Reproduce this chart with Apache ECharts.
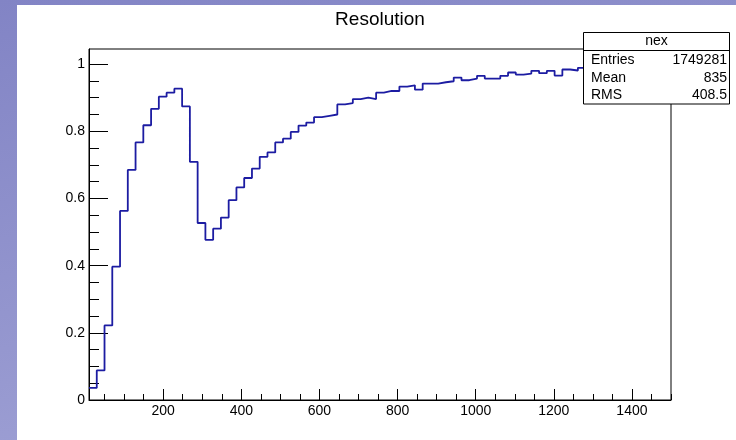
<!DOCTYPE html>
<html>
<head>
<meta charset="utf-8">
<title>Resolution</title>
<script src="https://cdn.jsdelivr.net/npm/echarts@6/dist/echarts.min.js"></script>
<style>
    html, body { margin: 0; padding: 0; }
    #wrap { position: relative; width: 736px; height: 440px; overflow: hidden;
        background: linear-gradient(165deg, #8284c5 0%, #9597cf 55%, #a6a8d9 100%); }
    #paper { position: absolute; left: 17px; top: 5px; right: 0; bottom: 0; background: #fff; }
    #chart { position: absolute; left: 0; top: 0; width: 736px; height: 440px; }
</style>
</head>
<body>
<div id="wrap"><div id="paper"></div><div id="chart"></div></div>
<script>
// histogram "nex": 75 bins from 10 to 1500
var binLow = 10;
var binHigh = 1500;
var binValues = [
    0.036, 0.088, 0.222, 0.397, 0.563, 0.685, 0.767, 0.818, 0.867, 0.903,
    0.915, 0.927, 0.874, 0.709, 0.527, 0.477, 0.510, 0.543, 0.595, 0.633,
    0.661, 0.689, 0.724, 0.737, 0.767, 0.778, 0.798, 0.817, 0.826, 0.842,
    0.846, 0.850, 0.880, 0.884, 0.896, 0.900, 0.896, 0.915, 0.920, 0.920,
    0.933, 0.937, 0.924, 0.942, 0.942, 0.946, 0.949, 0.960, 0.952, 0.957,
    0.965, 0.957, 0.957, 0.965, 0.975, 0.969, 0.972, 0.980, 0.973, 0.980,
    0.966, 0.984, 0.981, 0.989, 0.988, 0.992, 0.990, 0.994, 0.991, 0.995,
    0.993, 0.996, 0.994, 0.997, 0.995
];
var xMajorTicks = [200, 400, 600, 800, 1000, 1200, 1400];
var xMinorTicks = [50, 100, 150, 250, 300, 350, 450, 500, 550, 650, 700, 750,
    850, 900, 950, 1050, 1100, 1150, 1250, 1300, 1350, 1450, 1500];
var yMajorTicks = [0, 0.2, 0.4, 0.6, 0.8, 1];
var yMinorTicks = [0.05, 0.1, 0.15, 0.25, 0.3, 0.35, 0.45, 0.5, 0.55,
    0.65, 0.7, 0.75, 0.85, 0.9, 0.95];
var statsName = 'nex';
var statsLabels = ['Entries', 'Mean', 'RMS'];
var statsValues = ['1749281', '835', '408.5'];

var font = 'Liberation Sans, Arial, Helvetica, sans-serif';
var myChart = echarts.init(document.getElementById('chart'));

// step points at the bin edges
var binWidth = (binHigh - binLow) / binValues.length;
var points = [];
for (var i = 0; i < binValues.length; i++) {
    points.push([binLow + i * binWidth, binValues[i]]);
}
points.push([binHigh, binValues[binValues.length - 1]]);

// stats box drawn over the frame and the histogram, like ROOT does
function statsBox() {
    var els = [{
        type: 'rect', z: 100,
        shape: { x: 583.5, y: 32.5, width: 146, height: 71.5 },
        style: { fill: '#fff', stroke: '#000', lineWidth: 1 }
    }, {
        type: 'line', z: 101,
        shape: { x1: 583.5, y1: 50.5, x2: 729.5, y2: 50.5 },
        style: { stroke: '#000', lineWidth: 1 }
    }, {
        type: 'text', z: 101,
        x: 656.5, y: 41.5,
        style: { text: statsName, font: '14px ' + font, fill: '#000', align: 'center', verticalAlign: 'middle' }
    }];
    for (var i = 0; i < statsLabels.length; i++) {
        els.push({
            type: 'text', z: 101,
            x: 591, y: 60.5 + i * 17.4,
            style: { text: statsLabels[i], font: '14px ' + font, fill: '#000', align: 'left', verticalAlign: 'middle' }
        });
        els.push({
            type: 'text', z: 101,
            x: 727, y: 60.5 + i * 17.4,
            style: { text: statsValues[i], font: '14px ' + font, fill: '#000', align: 'right', verticalAlign: 'middle' }
        });
    }
    return els;
}

function plain(v) {
    return String(v);
}

var option = {
    animation: false,
    grid: {
        left: 89, top: 49, right: 65, bottom: 40,
        show: true, borderColor: '#000', borderWidth: 1, backgroundColor: 'transparent'
    },
    xAxis: [{
        type: 'value', min: binLow, max: binHigh,
        axisLine: { show: true, onZero: false, lineStyle: { color: '#000', width: 1 } },
        axisTick: { show: true, inside: true, length: 11, customValues: xMajorTicks, lineStyle: { color: '#000' } },
        axisLabel: { customValues: xMajorTicks, formatter: plain, margin: 4, fontSize: 14, fontFamily: font, color: '#000' },
        splitLine: { show: false }
    }, {
        type: 'value', min: binLow, max: binHigh, position: 'bottom',
        axisLine: { show: false },
        axisTick: { show: true, inside: true, length: 6, customValues: xMinorTicks, lineStyle: { color: '#000' } },
        axisLabel: { show: false },
        splitLine: { show: false }
    }],
    yAxis: [{
        type: 'value', min: 0, max: 1.045,
        axisLine: { show: true, onZero: false, lineStyle: { color: '#000', width: 1 } },
        axisTick: { show: true, inside: true, length: 19, customValues: yMajorTicks, lineStyle: { color: '#000' } },
        axisLabel: { customValues: yMajorTicks, formatter: plain, margin: 4, fontSize: 14, fontFamily: font, color: '#000' },
        splitLine: { show: false }
    }, {
        type: 'value', min: 0, max: 1.045, position: 'left',
        axisLine: { show: false },
        axisTick: { show: true, inside: true, length: 10, customValues: yMinorTicks, lineStyle: { color: '#000' } },
        axisLabel: { show: false },
        splitLine: { show: false }
    }],
    series: [{
        name: statsName,
        type: 'line',
        step: 'end',
        showSymbol: false,
        xAxisIndex: 0,
        yAxisIndex: 0,
        z: 2,
        lineStyle: { color: '#1c1ca2', width: 1.8 },
        data: points
    }],
    graphic: [{
        type: 'text',
        x: 380, y: 20,
        style: { text: 'Resolution', font: '19px ' + font, fill: '#000', align: 'center', verticalAlign: 'middle' }
    }, {
        type: 'group',
        z: 100,
        children: statsBox()
    }]
};
myChart.setOption(option);
</script>
</body>
</html>
